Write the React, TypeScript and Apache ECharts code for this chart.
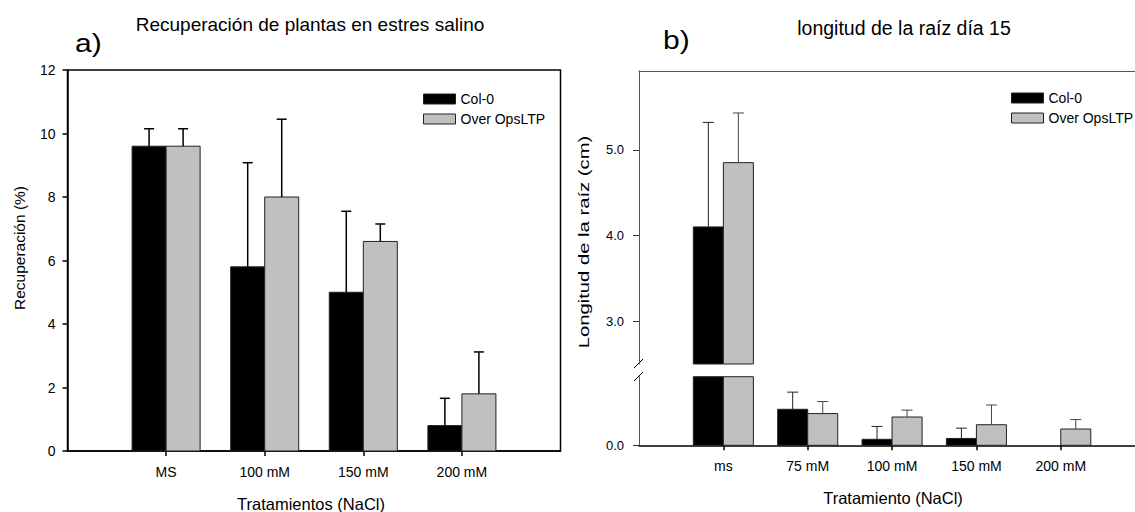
import React, { useEffect, useRef } from "react";
import * as echarts from "echarts";

const FONT = '"Liberation Sans", Arial, Helvetica, sans-serif';

// ---- Panel a) data ----
const recCategories = ["MS", "100 mM", "150 mM", "200 mM"];
const recCol0 = [9.6, 5.8, 5.0, 0.8];
const recCol0Err = [0.55, 3.28, 2.55, 0.86];
const recOver = [9.6, 8.0, 6.6, 1.8];
const recOverErr = [0.55, 2.45, 0.55, 1.32];
const recTicks = [0, 2, 4, 6, 8, 10, 12];

// ---- Panel b) data ----
const rootCategories = ["ms", "75 mM", "100 mM", "150 mM", "200 mM"];
const rootCol0 = [4.1, 0.42, 0.07, 0.08, 0];
const rootCol0Err = [1.22, 0.2, 0.15, 0.12, 0];
const rootOver = [4.85, 0.37, 0.33, 0.24, 0.19];
const rootOverErr = [0.58, 0.14, 0.08, 0.23, 0.11];
const rootUpperTicks = [3, 4, 5];
const rootLowerTicks = [0];

const legendNames = ["Col-0", "Over OpsLTP"];

// axis ranges (layout)
const REC_RANGE: [number, number] = [0, 12];
const UP_RANGE: [number, number] = [2.5, 5.92];
const LOW_RANGE: [number, number] = [0, 0.8];

function toData(vals: number[], errs: number[]) {
  return vals.map((v, i) => [i, v, errs[i]]);
}

function makeRender(
  side: number,
  widthFrac: number,
  range: [number, number],
  fill: string,
  stroke: string,
  errColor: string,
  errWidth: number,
  capW: number
) {
  return (params: any, api: any) => {
    const i = api.value(0);
    const v = api.value(1);
    const e = api.value(2);
    const lo = range[0];
    const hi = range[1];
    const xc = api.coord([i, lo])[0];
    const bw = api.size([widthFrac, 0])[0];
    const x0 = side < 0 ? xc - bw : xc;
    const children: any[] = [];
    if (v > lo) {
      const top = Math.min(v, hi);
      const pTop = api.coord([i, top]);
      const pBot = api.coord([i, lo]);
      children.push({
        type: "rect",
        shape: { x: x0, y: pTop[1], width: bw, height: pBot[1] - pTop[1] },
        style: { fill, stroke, lineWidth: 1 },
      });
    }
    if (e > 0) {
      const a = Math.max(v, lo);
      const b = Math.min(v + e, hi);
      if (b > a) {
        const ex = x0 + bw / 2;
        const ya = api.coord([i, a])[1];
        const yb = api.coord([i, b])[1];
        children.push({
          type: "line",
          shape: { x1: ex, y1: ya, x2: ex, y2: yb },
          style: { stroke: errColor, lineWidth: errWidth },
        });
        if (v + e <= hi) {
          children.push({
            type: "line",
            shape: { x1: ex - capW / 2, y1: yb, x2: ex + capW / 2, y2: yb },
            style: { stroke: errColor, lineWidth: errWidth },
          });
        }
      }
    }
    return { type: "group", children };
  };
}

const BLACK = "#000000";
const GRAY = "#c0c0c0";

export default function App() {
  const ref = useRef<HTMLDivElement>(null);
  useEffect(() => {
    if (!ref.current) return;
    const chart = echarts.init(ref.current, undefined, { renderer: "svg" });

    const labelStyle = { color: "#000", fontSize: 14, fontFamily: FONT };
    const blackLine = { color: "#000", width: 1.5 };
    const grayLine = { color: "#555", width: 1 };

    const series: any[] = [];
    const addSeries = (
      name: string,
      side: number,
      vals: number[],
      errs: number[],
      axis: number,
      frac: number,
      range: [number, number],
      fill: string,
      errColor: string,
      errWidth: number,
      capW: number
    ) => {
      series.push({
        type: "custom",
        name,
        xAxisIndex: axis,
        yAxisIndex: axis,
        itemStyle: { color: fill },
        encode: { x: 0, y: 1 },
        renderItem: makeRender(side, frac, range, fill, "#222", errColor, errWidth, capW),
        data: toData(vals, errs),
      });
    };

    addSeries("Col-0", -1, recCol0, recCol0Err, 0, 0.345, REC_RANGE, BLACK, "#000", 1.5, 10);
    addSeries("Over OpsLTP", 1, recOver, recOverErr, 0, 0.345, REC_RANGE, GRAY, "#000", 1.5, 10);
    addSeries("Col-0", -1, rootCol0, rootCol0Err, 1, 0.356, UP_RANGE, BLACK, "#222", 1, 11);
    addSeries("Over OpsLTP", 1, rootOver, rootOverErr, 1, 0.356, UP_RANGE, GRAY, "#444", 1, 11);
    addSeries("Col-0", -1, rootCol0, rootCol0Err, 2, 0.356, LOW_RANGE, BLACK, "#222", 1, 11);
    addSeries("Over OpsLTP", 1, rootOver, rootOverErr, 2, 0.356, LOW_RANGE, GRAY, "#444", 1, 11);

    const legendCommon = {
      orient: "vertical",
      data: legendNames,
      icon: "rect",
      itemWidth: 32,
      itemHeight: 10,
      itemGap: 6,
      selectedMode: false,
      itemStyle: { borderColor: "#222", borderWidth: 1 },
      textStyle: { color: "#000", fontSize: 14, fontFamily: FONT, lineHeight: 14 },
    };

    const option: any = {
      animation: false,
      backgroundColor: "#fff",
      grid: [
        { left: 67.5, top: 70, width: 493, height: 381, show: true, borderColor: "#000", borderWidth: 1.5, backgroundColor: "transparent" },
        { left: 639, top: 71, right: 0, height: 293 },
        { left: 639, top: 376.7, right: 0, height: 68.6 },
      ],
      legend: [
        { ...legendCommon, left: 418, top: 87 },
        { ...legendCommon, left: 1006, top: 86 },
      ],
      xAxis: [
        {
          gridIndex: 0, type: "value", min: -1, max: 4, interval: 1, position: "bottom",
          axisLine: { show: true, onZero: false, lineStyle: blackLine },
          axisTick: { show: true, length: 5, customValues: [0, 1, 2, 3], lineStyle: blackLine },
          axisLabel: { ...labelStyle, margin: 14, customValues: [0, 1, 2, 3], formatter: (v: number) => recCategories[v] ?? "" },
          splitLine: { show: false },
        },
        {
          gridIndex: 1, type: "value", min: -1, max: 4.88, interval: 1, position: "top",
          axisLine: { show: true, onZero: false, lineStyle: grayLine },
          axisTick: { show: false },
          axisLabel: { show: false },
          splitLine: { show: false },
        },
        {
          gridIndex: 2, type: "value", min: -1, max: 4.88, interval: 1, position: "bottom",
          axisLine: { show: true, onZero: false, lineStyle: blackLine },
          axisTick: { show: true, length: 5, customValues: [0, 1, 2, 3, 4], lineStyle: blackLine },
          axisLabel: { ...labelStyle, margin: 14, customValues: [0, 1, 2, 3, 4], formatter: (v: number) => rootCategories[v] ?? "" },
          splitLine: { show: false },
        },
      ],
      yAxis: [
        {
          gridIndex: 0, type: "value", min: REC_RANGE[0], max: REC_RANGE[1], interval: 2,
          axisLine: { show: true, onZero: false, lineStyle: blackLine },
          axisTick: { show: true, length: 5, customValues: recTicks, lineStyle: blackLine },
          axisLabel: { ...labelStyle, margin: 12, customValues: recTicks },
          splitLine: { show: false },
        },
        {
          gridIndex: 1, type: "value", min: UP_RANGE[0], max: UP_RANGE[1],
          axisLine: { show: true, onZero: false, lineStyle: grayLine },
          axisTick: { show: true, length: 6, customValues: rootUpperTicks, lineStyle: { color: "#333", width: 1 } },
          axisLabel: { ...labelStyle, fontSize: 13, margin: 15, customValues: rootUpperTicks, formatter: (v: number) => v.toFixed(1) },
          splitLine: { show: false },
        },
        {
          gridIndex: 2, type: "value", min: LOW_RANGE[0], max: LOW_RANGE[1],
          axisLine: { show: true, onZero: false, lineStyle: grayLine },
          axisTick: { show: true, length: 6, customValues: rootLowerTicks, lineStyle: { color: "#333", width: 1 } },
          axisLabel: { ...labelStyle, fontSize: 13, margin: 15, customValues: rootLowerTicks, formatter: (v: number) => v.toFixed(1) },
          splitLine: { show: false },
        },
      ],
      graphic: [
        { type: "text", x: 75, y: 43, scaleX: 1.2, style: { text: "a)", font: `25px ${FONT}`, fill: "#000", textVerticalAlign: "middle" } },
        { type: "text", x: 310, y: 24, style: { text: "Recuperación de plantas en estres salino", font: `19px ${FONT}`, fill: "#000", textAlign: "center", textVerticalAlign: "middle" } },
        { type: "text", x: 663, y: 40, scaleX: 1.2, style: { text: "b)", font: `25px ${FONT}`, fill: "#000", textVerticalAlign: "middle" } },
        { type: "text", x: 904, y: 28, style: { text: "longitud de la raíz día 15", font: `19.5px ${FONT}`, fill: "#000", textAlign: "center", textVerticalAlign: "middle" } },
        { type: "text", x: 19, y: 248, rotation: Math.PI / 2, style: { text: "Recuperación (%)", font: `15.5px ${FONT}`, fill: "#000", textAlign: "center", textVerticalAlign: "middle" } },
        { type: "text", x: 584, y: 242, rotation: Math.PI / 2, scaleX: 1.35, style: { text: "Longitud de la raíz (cm)", font: `15px ${FONT}`, fill: "#000", textAlign: "center", textVerticalAlign: "middle" } },
        { type: "text", x: 311, y: 504, style: { text: "Tratamientos (NaCl)", font: `16.5px ${FONT}`, fill: "#000", textAlign: "center", textVerticalAlign: "middle" } },
        { type: "text", x: 893, y: 498, style: { text: "Tratamiento (NaCl)", font: `16.5px ${FONT}`, fill: "#000", textAlign: "center", textVerticalAlign: "middle" } },
        { type: "line", shape: { x1: 634, y1: 368, x2: 643, y2: 359 }, style: { stroke: "#000", lineWidth: 1 } },
        { type: "line", shape: { x1: 634, y1: 381, x2: 643, y2: 372 }, style: { stroke: "#000", lineWidth: 1 } },
      ],
      series,
    };
    chart.setOption(option);
    return () => chart.dispose();
  }, []);
  return <div ref={ref} style={{ position: "fixed", left: 0, top: 0, width: 1135, height: 512, background: "#fff" }} />;
}
